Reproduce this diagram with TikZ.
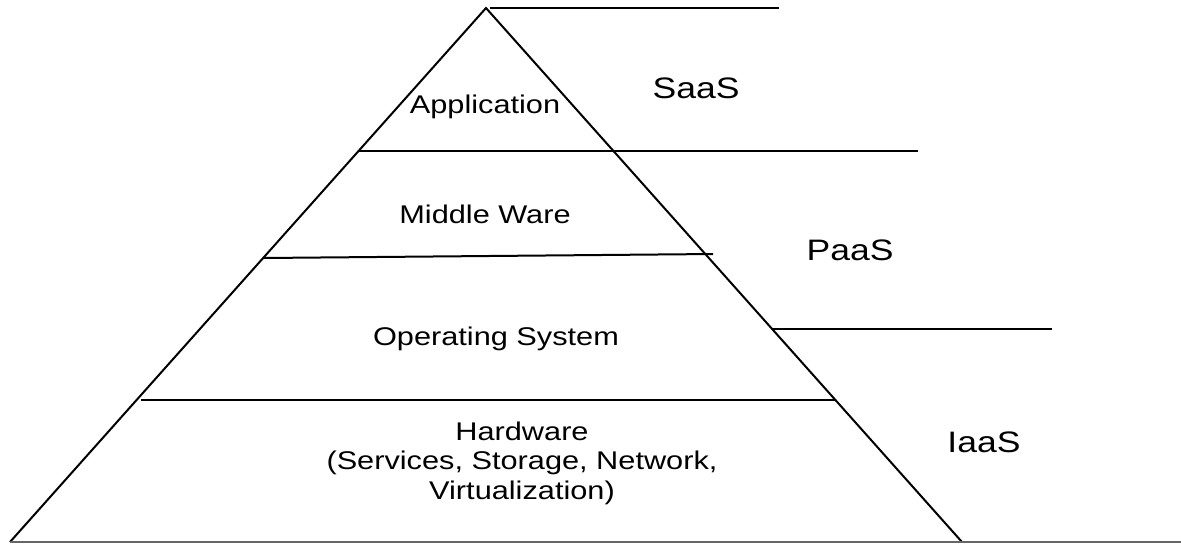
\documentclass[tikz,border=0pt]{standalone}
\usepackage{fontspec}
\usepackage{graphicx}
\setmainfont{Liberation Sans}
\newcommand{\hs}[1]{\scalebox{1.2}[1]{#1}}
\tikzset{
  ln/.style={line width=1pt, black},
  base/.style={line width=1pt, black!60},
  layer/.style={font=\fontsize{12.8}{14.6}\selectfont, inner sep=0pt, align=center},
  tier/.style={font=\fontsize{14.8}{16}\selectfont, inner sep=0pt},
}
\begin{document}
\begin{tikzpicture}[x=0.5pt,y=-0.5pt]
\useasboundingbox (0,0) rectangle (1181,543);
\coordinate (apex) at (486,8);
\coordinate (bl) at (10,542);
\coordinate (br) at (962,542);
% pyramid sides
\draw[ln] (bl) -- (apex) -- (br);
% base line
\draw[base] (bl) -- (1181,542);
% top tier line
\coordinate (t1) at (779,8);
\draw[ln] (490,8) -- (t1);
% layer lines
\coordinate (a1) at (359,151);
\coordinate (a2) at (918,151);
\draw[ln] (a1) -- (a2);
\coordinate (b1) at (263,258);
\coordinate (b2) at (713,254);
\draw[ln] (b1) -- (b2);
\coordinate (c1) at (772,329);
\coordinate (c2) at (1052,329);
\draw[ln] (c1) -- (c2);
\coordinate (d1) at (141,400);
\coordinate (d2) at (835,400);
\draw[ln] (d1) -- (d2);
% layer labels
\node[layer] (app) at (485,107) {\hs{Application}};
\node[layer] (mw) at (485,214) {\hs{Middle Ware}};
\node[layer] (os) at (496,339) {\hs{Operating System}};
\node[layer] (hw) at (522,464) {\hs{\begin{tabular}{@{}c@{}}Hardware\\(Services, Storage, Network,\\Virtualization)\end{tabular}}};
% tier labels
\node[tier] (saas) at (696,88) {\hs{SaaS}};
\node[tier] (paas) at (850,250) {\hs{PaaS}};
\node[tier] (iaas) at (984,442) {\hs{IaaS}};
\end{tikzpicture}
\end{document}
